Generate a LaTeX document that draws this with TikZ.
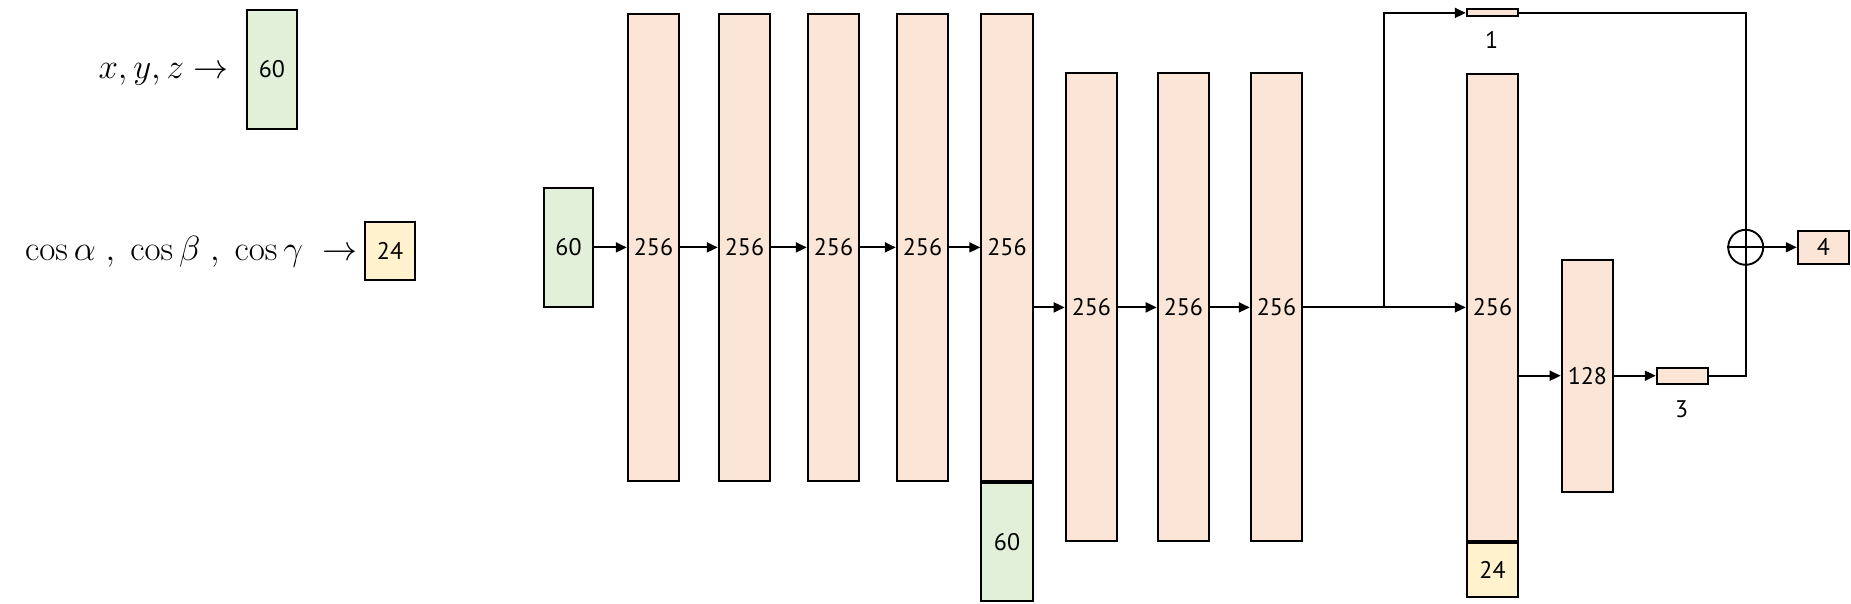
\documentclass[tikz,border=0pt]{standalone}
\usepackage{fix-cm}
\usepackage[no-math]{fontspec}
\setmainfont{PT Sans}
\usetikzlibrary{arrows.meta}
\definecolor{peach}{HTML}{FBE5D6}
\definecolor{lgreen}{HTML}{E2F0D9}
\definecolor{lyellow}{HTML}{FFF2CC}
\begin{document}
\begin{tikzpicture}[x=1pt,y=-1pt,
  box/.style={draw, line width=2pt, inner sep=0pt, minimum width=51.5pt, font=\fontsize{24}{28}\selectfont},
  layer/.style={box, fill=peach},
  enc/.style={box, fill=lgreen},
  dirc/.style={box, fill=lyellow},
  conn/.style={line width=1.9pt},
  arr/.style={conn, -{Triangle[length=11pt,width=10pt]}},
  lbl/.style={inner sep=0pt, font=\fontsize{24}{28}\selectfont},
  mathlbl/.style={inner sep=0pt, font=\fontsize{35}{40}\selectfont, anchor=base west}]
\useasboundingbox (0,0) rectangle (1851,603);

% legend
\node[mathlbl] (lxyz) at (98.3,78.3) {$x, y, z \rightarrow$};
\node[enc, minimum width=50pt, minimum height=119pt] (kxyz) at (271.9,69.4) {60};
\node[mathlbl] (ldir) at (25,260) {$\cos\alpha\;,\ \cos\beta\;,\ \cos\gamma\;\rightarrow$};
\node[dirc, minimum width=50.5pt, minimum height=58.3pt] (kdir) at (390,250.9) {24};

% first stage
\node[enc, minimum width=49.6pt, minimum height=118.4pt] (in60) at (568.5,247.4) {60};
\node[layer, minimum height=467.3pt] (L1) at (653.5,247.4) {256};
\node[layer, minimum height=467.3pt] (L2) at (744.5,247.4) {256};
\node[layer, minimum height=467.3pt] (L3) at (833.5,247.4) {256};
\node[layer, minimum height=467.3pt] (L4) at (922.5,247.4) {256};
\node[layer, minimum height=467.3pt] (L5) at (1007,247.4) {256};
\node[enc, minimum height=118pt, anchor=north] (L5b) at (L5.south) {60};

% second stage
\node[layer, minimum height=468pt] (L6) at (1091.4,307.4) {256};
\node[layer, minimum height=468pt] (L7) at (1183.4,307.4) {256};
\node[layer, minimum height=468pt] (L8) at (1276.5,307.4) {256};
\node[layer, minimum height=467pt] (L9) at (1492.5,307.4) {256};
\node[dirc, minimum height=54.5pt, anchor=north] (L9b) at (L9.south) {24};
\node[layer, minimum height=232pt] (L10) at (1587.4,375.7) {128};

% heads
\node[layer, minimum height=7pt] (b1) at (1492.5,12.9) {};
\node[lbl] (t1) at (1491.7,40.4) {1};
\node[layer, minimum width=51.3pt, minimum height=16pt] (b3) at (1682.4,375.7) {};
\node[lbl] (t3) at (1681.7,409.6) {3};
\node[draw, circle, line width=1.9pt, minimum size=35pt, inner sep=0pt] (op) at (1745.7,247.3) {};
\draw[conn] (op.north) -- (op.south) (op.west) -- (op.east);
\node[layer, minimum width=51.3pt, minimum height=33.4pt] (b4) at (1823.4,247.3) {4};

\coordinate (br) at (1384,307.4);

% connectors
\draw[arr] (in60.east) -- (in60.east -| L1.west);
\draw[arr] (L1.east) -- (L2.west);
\draw[arr] (L2.east) -- (L3.west);
\draw[arr] (L3.east) -- (L4.west);
\draw[arr] (L4.east) -- (L5.west);
\draw[arr] (L5.east |- L6.west) -- (L6.west);
\draw[arr] (L6.east) -- (L7.west);
\draw[arr] (L7.east) -- (L8.west);
\draw[arr] (L8.east) -- (L9.west);
\draw[arr] (br) |- (b1.west);
\draw[arr] (L9.east |- L10.west) -- (L10.west);
\draw[arr] (L10.east) -- (b3.west);
\draw[conn] (b3.east) -| (op.south);
\draw[conn] (b1.east) -| (op.north);
\draw[arr] (op.east) -- (b4.west);
\end{tikzpicture}
\end{document}
